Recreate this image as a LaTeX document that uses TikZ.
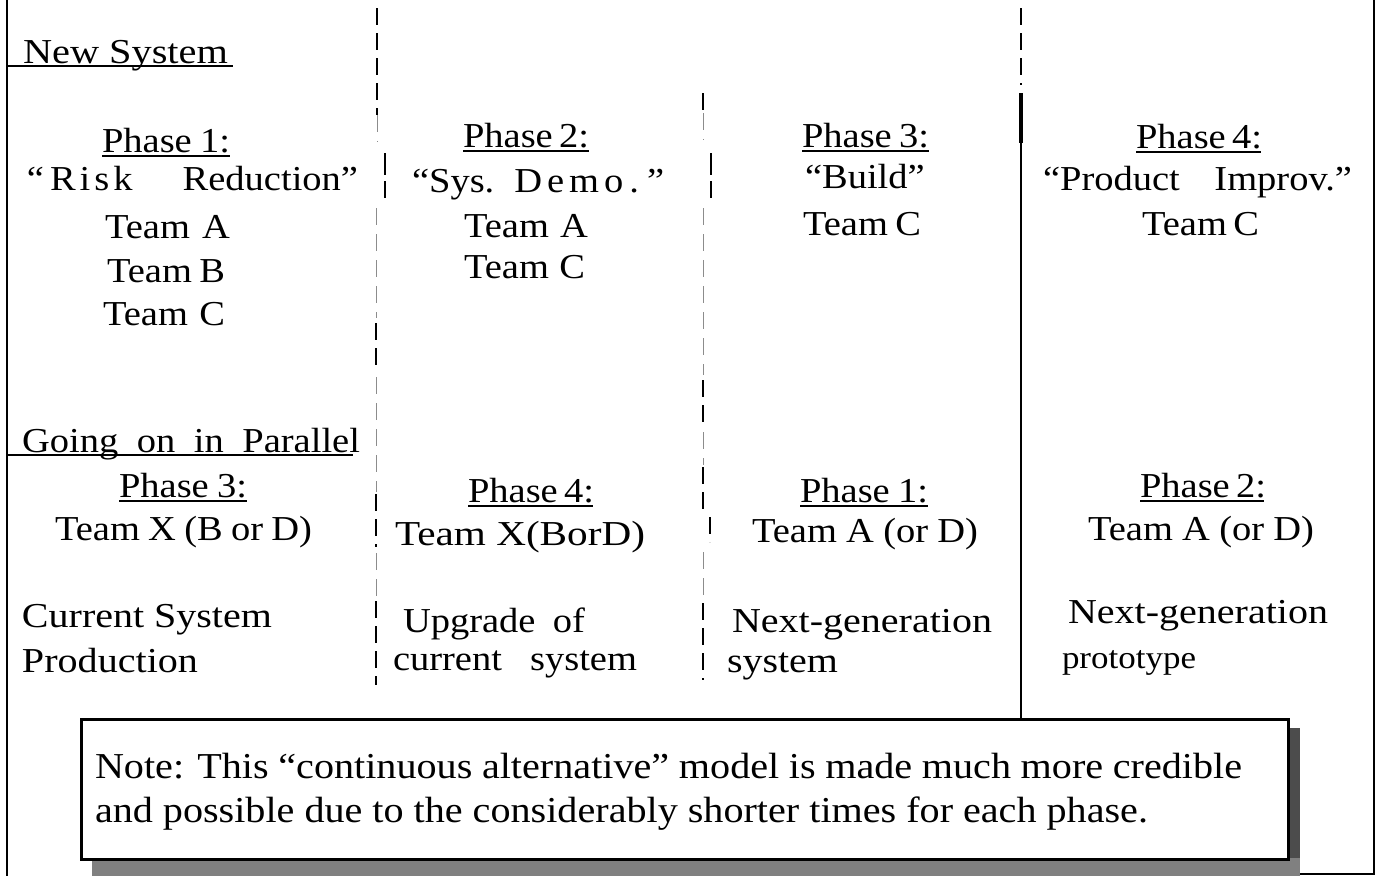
\documentclass[tikz,border=0pt]{standalone}
\usepackage{graphicx}
\usepackage{fontspec}
\setmainfont{Liberation Serif}[FakeStretch=1.1]
% set a word to a given width, keeping its height
\newcommand{\fitto}[2]{\resizebox{#1}{\height}{#2}}
\begin{document}
\begin{tikzpicture}[x=1pt,y=-1pt,
  txt/.style={anchor=base west,inner sep=0pt,outer sep=0pt,
              font=\fontsize{35}{40}\selectfont},
  notetxt/.style={txt,font=\fontsize{36.5}{40}\selectfont},
  frame/.style={line width=2.6pt},
  thickdash/.style={line width=2.4pt,dash pattern=on 17pt off 8pt},
  thindash/.style={line width=0.9pt,black!45,dash pattern=on 17pt off 9pt},
  ul/.style={line width=1.6pt},
  notebox/.style={draw,line width=2.6pt,fill=white,anchor=north west,
                  inner sep=0pt,minimum width=1207pt,minimum height=140pt}]

% page
\fill[white] (0,0) rectangle (1377,876);
\useasboundingbox (0,0) rectangle (1377,876);

% outer frame
\draw[frame] (7,0) -- (7,876);
\draw[frame] (1374,0) -- (1374,874) -- (1300,874);

% column rule 1
\draw[thickdash] (377,8) -- (377,115);
\draw[thindash]  (377,115) -- (377,142);
\draw[thickdash,dash pattern=on 22pt off 6pt] (385,153) -- (385,198);
\draw[thindash]  (376,208) -- (376,318);
\draw[thickdash] (376,323) -- (376,370);
\draw[thindash]  (376,377) -- (376,492);
\draw[thickdash] (376,494) -- (376,547);
\draw[thindash]  (376,553) -- (376,598);
\draw[thickdash] (376,601) -- (376,685);

% column rule 2
\draw[thickdash] (703,93) -- (703,113);
\draw[thindash]  (703,113) -- (703,140);
\draw[thickdash,dash pattern=on 22pt off 6pt] (711,153) -- (711,198);
\draw[thindash]  (703,208) -- (703,375);
\draw[thickdash] (703,380) -- (703,425);
\draw[thindash]  (703,432) -- (703,465);
\draw[thickdash] (703,467) -- (703,510);
\draw[thickdash] (710,517) -- (710,542);
\draw[thindash]  (703,552) -- (703,598);
\draw[thickdash] (703,603) -- (703,680);

% column rule 3
\draw[thickdash] (1021,8) -- (1021,85);
\draw[line width=4pt] (1021,93) -- (1021,143);
\draw[line width=2.6pt] (1021,143) -- (1021,718);

% section headings
\node[txt] (newsys) at (23,63) {\fitto{205pt}{New System}};
\draw[ul] (7,66) -- (233,66);
\node[txt] (parallel) at (22,452) {\makebox[338pt][s]{Going on in Parallel}};
\draw[ul] (7,455) -- (353,455);

% new system, phases 1-4
\node[txt] (ph1) at (102,152) {\makebox[128pt][s]{Phase 1:}};
\node[txt] (rr)  at (27,190)  {“\hspace{6pt}R\hspace{4pt}i\hspace{4pt}s\hspace{4pt}k\hspace{50pt}Reduction”};
\node[txt] (t1a) at (105,238) {\makebox[125pt][s]{Team A}};
\node[txt] (t1b) at (107,282) {\makebox[118pt][s]{Team B}};
\node[txt] (t1c) at (103,325) {\makebox[122pt][s]{Team C}};

\node[txt] (ph2) at (463,147) {\makebox[126pt][s]{Phase 2:}};
\node[txt] (sd)  at (412,192) {“Sys.\hspace{20pt}D\hspace{5pt}e\hspace{5pt}m\hspace{5pt}o\hspace{6pt}.\hspace{8pt}”};
\node[txt] (t2a) at (464,237) {\makebox[124pt][s]{Team A}};
\node[txt] (t2c) at (464,278) {\makebox[121pt][s]{Team C}};

\node[txt] (ph3) at (802,147) {\makebox[127pt][s]{Phase 3:}};
\node[txt] (bd)  at (805,188) {“Build”};
\node[txt] (t3c) at (803,235) {\makebox[118pt][s]{Team C}};

\node[txt] (ph4) at (1136,148) {\makebox[125pt][s]{Phase 4:}};
\node[txt] (pi)  at (1043,190) {\makebox[309pt][s]{“Product Improv.”}};
\node[txt] (t4c) at (1142,235) {\makebox[116pt][s]{Team C}};

% work going on in parallel
\node[txt] (qh1) at (119,497) {\makebox[128pt][s]{Phase 3:}};
\node[txt] (qt1) at (55,540)  {\makebox[257pt][s]{Team X (B or D)}};
\node[txt] (qu1) at (22,627)  {\fitto{250pt}{Current System}};
\node[txt] (qv1) at (22,672)  {\fitto{176pt}{Production}};

\node[txt] (qh2) at (468,502) {\makebox[125pt][s]{Phase 4:}};
\node[txt] (qt2) at (395,545) {\fitto{250pt}{Team X(BorD)}};
\node[txt] (qu2) at (403,632) {\makebox[182pt][s]{Upgrade of}};
\node[txt] (qv2) at (393,670) {\makebox[244pt][s]{current system}};

\node[txt] (qh3) at (800,502) {\makebox[128pt][s]{Phase 1:}};
\node[txt] (qt3) at (752,542) {\makebox[226pt][s]{Team A (or D)}};
\node[txt] (qu3) at (732,632) {\fitto{260pt}{Next-generation}};
\node[txt] (qv3) at (727,672) {\fitto{111pt}{system}};

\node[txt] (qh4) at (1140,497) {\makebox[124pt][s]{Phase 2:}};
\node[txt] (qt4) at (1088,540) {\makebox[226pt][s]{Team A (or D)}};
\node[txt] (qu4) at (1068,623) {\fitto{260pt}{Next-generation}};
\node[txt] (qv4) at (1062,668) {\fontsize{32}{36}\selectfont\fitto{134pt}{prototype}};

% phase headings are underlined
\foreach \n in {ph1,ph2,ph3,ph4,qh1,qh2,qh3,qh4}
  \draw[ul] ([yshift=-4pt]\n.base west) -- ([yshift=-4pt]\n.base east);

% note box with its drop shadow
\fill[black!70] (1287,728) rectangle (1300,876);
\fill[black!50] (92,858) rectangle (1300,876);
\node[notebox] (note) at (80,718) {};
\node[notetxt] (n1) at (95,778) {\makebox[1147pt][s]{Note: This “continuous alternative” model is made much more credible}};
\node[notetxt] (n2) at (95,822) {\makebox[1053pt][s]{and possible due to the considerably shorter times for each phase.}};
\end{tikzpicture}
\end{document}
